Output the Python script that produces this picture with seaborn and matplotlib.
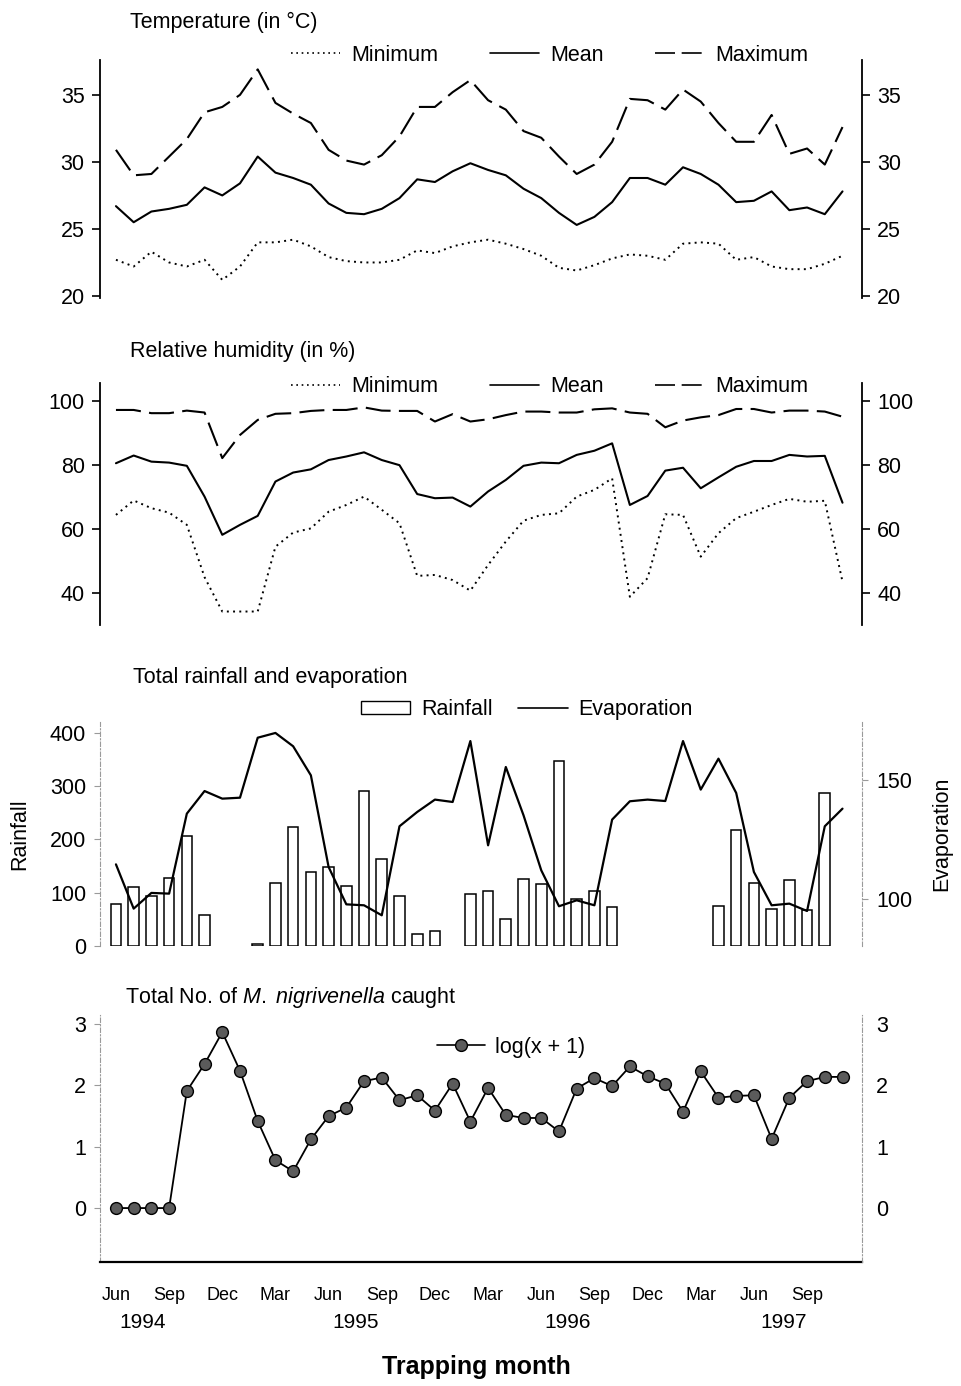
import numpy as np
import pandas as pd
import matplotlib
matplotlib.use("Agg")
import matplotlib.pyplot as plt
import matplotlib.transforms as mtransforms
from matplotlib.lines import Line2D
from matplotlib.patches import Patch
import seaborn as sns

# ---------------- data ----------------
months = list(range(42))  # Jun 1994 ... Nov 1997
month_tick_pos = [0, 3, 6, 9, 12, 15, 18, 21, 24, 27, 30, 33, 36, 39]
month_tick_lab = ["Jun", "Sep", "Dec", "Mar"] * 3 + ["Jun", "Sep"]
year_pos = [1.5, 13.5, 25.5, 37.7]
year_lab = ["1994", "1995", "1996", "1997"]

temp_min = [22.7, 22.2, 23.3, 22.5, 22.2, 22.7, 21.2, 22.2, 24.0, 24.0, 24.2, 23.7,
            22.9, 22.6, 22.5, 22.5, 22.7, 23.4, 23.2, 23.7, 24.0, 24.2, 23.9, 23.5,
            23.0, 22.1, 21.9, 22.3, 22.8, 23.1, 23.0, 22.7, 23.9, 24.0, 23.9, 22.7,
            22.9, 22.2, 22.0, 22.0, 22.4, 23.0]
temp_mean = [26.7, 25.5, 26.3, 26.5, 26.8, 28.1, 27.5, 28.4, 30.4, 29.2, 28.8, 28.3,
             26.9, 26.2, 26.1, 26.5, 27.3, 28.7, 28.5, 29.3, 29.9, 29.4, 29.0, 28.0,
             27.3, 26.2, 25.3, 25.9, 27.0, 28.8, 28.8, 28.3, 29.6, 29.1, 28.3, 27.0,
             27.1, 27.8, 26.4, 26.6, 26.1, 27.8]
temp_max = [30.9, 29.0, 29.1, 30.4, 31.7, 33.7, 34.1, 35.0, 36.9, 34.4, 33.6, 32.9,
            30.9, 30.1, 29.8, 30.5, 31.9, 34.1, 34.1, 35.2, 36.1, 34.6, 33.9, 32.3,
            31.8, 30.4, 29.1, 29.8, 31.5, 34.7, 34.6, 33.9, 35.4, 34.5, 32.9, 31.5,
            31.5, 33.5, 30.6, 31.0, 29.8, 32.6]

hum_min = [64.4, 68.9, 66.5, 65.1, 61.3, 45.0, 34.3, 34.3, 34.3, 54.5, 58.9, 60.2,
           65.4, 67.5, 70.1, 66.0, 61.8, 45.4, 45.7, 44.1, 40.8, 48.8, 56.1, 62.6,
           64.4, 64.9, 70.1, 72.2, 75.8, 38.9, 44.7, 64.6, 64.4, 51.4, 58.7, 63.4,
           65.4, 67.5, 69.4, 68.5, 68.8, 43.6]
hum_mean = [80.5, 82.9, 81.0, 80.7, 79.7, 70.1, 58.2, 61.3, 64.1, 74.8, 77.6, 78.6,
            81.5, 82.6, 83.9, 81.5, 79.9, 70.9, 69.6, 69.8, 67.0, 71.7, 75.3, 79.7,
            80.7, 80.5, 83.1, 84.4, 86.7, 67.5, 70.3, 78.2, 79.1, 72.7, 76.1, 79.4,
            81.2, 81.2, 83.1, 82.6, 82.8, 68.2]
hum_max = [97.1, 97.1, 96.1, 96.1, 96.9, 96.3, 82.1, 89.3, 94.0, 95.9, 96.1, 96.8,
           97.1, 97.1, 97.9, 96.9, 96.8, 96.8, 93.5, 95.8, 93.5, 94.2, 95.5, 96.6,
           96.6, 96.3, 96.3, 97.3, 97.6, 96.3, 95.9, 91.7, 93.8, 94.8, 95.5, 97.4,
           97.4, 96.3, 96.9, 96.9, 96.6, 95.0]

nan = np.nan
rainfall = [78, 111, 94, 128, 206, 59, nan, nan, 3, 119, 223, 138,
            148, 112, 290, 164, 94, 22, 28, nan, 98, 104, 50, 126,
            116, 347, 88, 103, 73, nan, nan, nan, nan, nan, 75, 217,
            118, 69, 123, 68, 286, nan]
evaporation = [114.4, 95.8, 102.4, 102.1, 135.7, 145.2, 142.0, 142.4, 167.6, 169.6, 164.0, 151.8,
               113.3, 97.6, 97.2, 93.0, 130.4, 136.4, 141.6, 140.6, 166.2, 122.4, 155.3, 135.0,
               111.9, 96.8, 99.3, 97.2, 133.2, 140.9, 141.6, 141.0, 166.2, 145.8, 158.8, 144.4,
               111.2, 97.2, 97.9, 94.8, 130.4, 137.8]

log_catch = [0, 0, 0, 0, 1.91, 2.35, 2.87, 2.24, 1.42, 0.78, 0.60, 1.12,
             1.50, 1.64, 2.07, 2.13, 1.76, 1.84, 1.59, 2.03, 1.41, 1.96, 1.52, 1.47,
             1.47, 1.25, 1.95, 2.12, 1.99, 2.31, 2.15, 2.03, 1.57, 2.23, 1.80, 1.83,
             1.84, 1.13, 1.80, 2.07, 2.14, 2.14]

# ---------------- style ----------------
sns.set_theme(style="ticks")
plt.rcParams["font.family"] = ["Liberation Sans", "DejaVu Sans"]
plt.rcParams["mathtext.fontset"] = "custom"
plt.rcParams["mathtext.rm"] = "Liberation Sans"
plt.rcParams["mathtext.it"] = "Liberation Sans:italic"
for k in ("text.color", "axes.labelcolor", "xtick.color", "ytick.color",
          "xtick.labelcolor", "ytick.labelcolor"):
    plt.rcParams[k] = "black"

FS = 15.5
DOT = (0, (1, 2.2))
DASH = (0, (12, 4))
W, H = 962, 1386
fig = plt.figure(figsize=(W / 100, H / 100), dpi=100)


def rect(top, bottom, left=100, right=862):
    return [left / W, 1 - bottom / H, (right - left) / W, (bottom - top) / H]


XLIM = (-0.9, 42.1)


def style_pair(ax, axr, solid=True):
    for a in (ax, axr):
        a.set_xlim(*XLIM)
        a.spines["top"].set_visible(False)
        a.spines["bottom"].set_visible(False)
        a.tick_params(axis="x", bottom=False, labelbottom=False)
        a.grid(False)
    ax.spines["right"].set_visible(False)
    axr.spines["left"].set_visible(False)
    if solid:
        for a, s in ((ax, "left"), (axr, "right")):
            a.spines[s].set_color("black")
            a.spines[s].set_linewidth(1.3)
        for a in (ax, axr):
            a.tick_params(axis="y", length=6, width=1.2, color="black",
                          labelcolor="black", labelsize=FS, pad=5)
    else:
        for a, s in ((ax, "left"), (axr, "right")):
            a.spines[s].set_color("#9a9a9a")
            a.spines[s].set_linewidth(0.8)
            a.spines[s].set_linestyle((0, (4, 2, 1, 2)))
        for a in (ax, axr):
            a.tick_params(axis="y", length=4, width=0.8, color="#9a9a9a",
                          labelcolor="black", labelsize=FS, pad=6)


def three_lines(ax, lo, me, hi):
    sns.lineplot(x=months, y=lo, ax=ax, color="black", lw=1.4, linestyle=DOT, errorbar=None)
    sns.lineplot(x=months, y=me, ax=ax, color="black", lw=1.5, errorbar=None)
    sns.lineplot(x=months, y=hi, ax=ax, color="black", lw=1.5, linestyle=DASH, errorbar=None)
    ax.set_xlabel("")
    ax.set_ylabel("")
    handles = [Line2D([], [], color="black", lw=1.2, linestyle=DOT),
               Line2D([], [], color="black", lw=1.2),
               Line2D([], [], color="black", lw=1.2, linestyle=DASH)]
    return handles


# ---------------- panel 1: temperature ----------------
ax1 = fig.add_axes(rect(60, 298))
ax1r = ax1.twinx()
h = three_lines(ax1, temp_min, temp_mean, temp_max)
for a in (ax1, ax1r):
    a.set_ylim(19.85, 37.6)
    a.set_yticks([20, 25, 30, 35])
style_pair(ax1, ax1r)
ax1.legend(h, ["Minimum", "Mean", "Maximum"], ncol=3, frameon=False, fontsize=FS,
           loc="center", bbox_to_anchor=(0.59, 1.02), handlelength=2.3,
           handletextpad=0.5, columnspacing=2.4)
fig.text(130 / W, 1 - 22 / H, "Temperature (in °C)", fontsize=FS, ha="left", va="center")

# ---------------- panel 2: humidity ----------------
ax2 = fig.add_axes(rect(383, 625))
ax2r = ax2.twinx()
h = three_lines(ax2, hum_min, hum_mean, hum_max)
for a in (ax2, ax2r):
    a.set_ylim(30.1, 105.5)
    a.set_yticks([40, 60, 80, 100])
style_pair(ax2, ax2r)
ax2.legend(h, ["Minimum", "Mean", "Maximum"], ncol=3, frameon=False, fontsize=FS,
           loc="center", bbox_to_anchor=(0.59, 0.985), handlelength=2.3,
           handletextpad=0.5, columnspacing=2.4)
fig.text(130 / W, 1 - 352 / H, "Relative humidity (in %)", fontsize=FS, ha="left", va="center")

# ---------------- panel 3: rainfall / evaporation ----------------
ax3 = fig.add_axes(rect(722, 946))
ax3r = ax3.twinx()
rain_df = pd.DataFrame({"month": months, "rain": rainfall}).dropna()
sns.barplot(data=rain_df, x="month", y="rain", native_scale=True, fill=False,
            color="black", width=0.6, errorbar=None, linewidth=1.1, ax=ax3)
sns.lineplot(x=months, y=evaporation, ax=ax3r, color="black", lw=1.6, errorbar=None)
ax3.set_ylim(0, 420)
ax3.set_yticks([0, 100, 200, 300, 400])
ax3r.set_ylim(80.1, 174.2)
ax3r.set_yticks([100, 150])
style_pair(ax3, ax3r, solid=False)
ax3.set_xlabel("")
ax3.set_ylabel("Rainfall", fontsize=FS, labelpad=14)
ax3r.set_ylabel("Evaporation", fontsize=FS, labelpad=14)
ax3.legend([Patch(facecolor="white", edgecolor="black", lw=1.0),
            Line2D([], [], color="black", lw=1.2)],
           ["Rainfall", "Evaporation"], ncol=2, frameon=False, fontsize=FS,
           loc="center", bbox_to_anchor=(0.56, 1.055), handlelength=2.3,
           handleheight=0.6, handletextpad=0.5, columnspacing=1.2)
fig.text(133 / W, 1 - 677 / H, "Total rainfall and evaporation", fontsize=FS,
         ha="left", va="center")

# ---------------- panel 4: catches ----------------
ax4 = fig.add_axes(rect(1015, 1262))
ax4r = ax4.twinx()
sns.lineplot(x=months, y=log_catch, ax=ax4, color="black", lw=1.3, marker="o",
             markersize=8.5, markerfacecolor="#5b5b5b", markeredgecolor="black",
             markeredgewidth=1.0, errorbar=None)
ax4.set_xlabel("")
ax4.set_ylabel("")
for a in (ax4, ax4r):
    a.set_ylim(-0.88, 3.15)
    a.set_yticks([0, 1, 2, 3])
style_pair(ax4, ax4r, solid=False)
ax4r.tick_params(axis="y", length=0, pad=10)
ax4.spines["bottom"].set_visible(True)
ax4.spines["bottom"].set_color("black")
ax4.spines["bottom"].set_linewidth(1.6)
ax4.tick_params(axis="x", bottom=True, labelbottom=True, length=0, pad=18,
                labelsize=13, labelcolor="black")
ax4.set_xticks(month_tick_pos)
ax4.set_xticklabels(month_tick_lab)
ax4.legend([Line2D([], [], color="black", lw=1.2, marker="o", markersize=8.5,
                   markerfacecolor="#5b5b5b", markeredgecolor="black")],
           ["log(x + 1)"], frameon=False, fontsize=FS, loc="center",
           bbox_to_anchor=(0.54, 0.87), handlelength=2.2, handletextpad=0.5)
fig.text(125 / W, 1 - 998 / H, r"Total No. of $\mathit{M.\ nigrivenella}$ caught",
         fontsize=FS, ha="left", va="center")

trans = mtransforms.blended_transform_factory(ax4.transData, fig.transFigure)
for xp, lab in zip(year_pos, year_lab):
    ax4.text(xp, 1 - 1322 / H, lab, transform=trans, ha="center", va="center",
             fontsize=15)
fig.text(476 / W, 1 - 1367 / H, "Trapping month", fontsize=18, fontweight="bold",
         ha="center", va="center")

fig.savefig("out.png", dpi=100)
